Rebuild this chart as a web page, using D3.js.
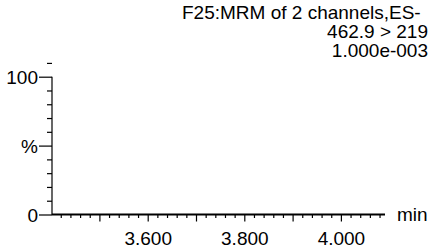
<!DOCTYPE html>
<html><head><meta charset="utf-8">
<script src="https://cdn.jsdelivr.net/npm/d3@7/dist/d3.min.js"></script>
<style>body{margin:0;background:#fff}svg{display:block}text{font-family:"Liberation Sans",Arial,sans-serif;fill:#000}</style>
</head><body><svg width="435" height="249"></svg>
<script>
const titleLines = ["F25:MRM of 2 channels,ES-", "462.9 > 219", "1.000e-003"];
const xMajorTicks = [3.5, 3.6, 3.7, 3.8, 3.9, 4.0];
const xLabelTicks = [3.6, 3.8, 4.0];
const xMinorTicks = [3.42,3.44,3.46,3.48,3.52,3.54,3.56,3.58,3.62,3.64,3.66,3.68,3.72,3.74,3.76,3.78,3.82,3.84,3.86,3.88,3.92,3.94,3.96,3.98,4.02,4.04,4.06,4.08];
const yMajorTicks = [0, 50, 100];
const yMinorTicks = [10, 20, 30, 40, 60, 70, 80, 90];
const yExtraTick = [110];
const yLabels = {0: "0", 50: "%", 100: "100"};
const xUnit = "min";
const seriesValues = []; // empty chromatogram trace

const svg = d3.select("svg");
const fs = 19;
const x0 = d3.scaleLinear().domain([3.6, 4.0]).range([147.7, 340.9]);
const x = d3.scaleLinear().domain([x0.invert(52), x0.invert(385)]).range([52, 385]);
const y = d3.scaleLinear().domain([0, 100]).range([214.5, 76.7]);

// x axis
const gx = svg.append("g").attr("transform", "translate(0,214.5)");
gx.append("line").attr("x1", 52).attr("x2", 385).attr("stroke", "#000").attr("stroke-width", 2);
gx.call(g => g.append("g").call(d3.axisBottom(x).tickValues(xMinorTicks).tickSize(3.5).tickFormat("")).call(a => a.select(".domain").remove()));
gx.call(g => g.append("g").call(d3.axisBottom(x).tickValues(xMajorTicks).tickSize(7).tickFormat(d => xLabelTicks.some(v => Math.abs(v - d) < 1e-9) ? d3.format(".3f")(d) : "")).call(a => a.select(".domain").remove()));
gx.selectAll(".tick line").attr("stroke", "#000").attr("stroke-width", 1.2);
gx.selectAll(".tick text").attr("font-size", fs).attr("dy", 0).attr("y", 30.5).attr("font-family", "Liberation Sans, Arial, sans-serif");
svg.append("text").attr("x", 397).attr("y", 221).attr("font-size", fs).text(xUnit);

// y axis
const gy = svg.append("g").attr("transform", "translate(52,0)");
gy.append("line").attr("y1", y(100)).attr("y2", 215).attr("stroke", "#000").attr("stroke-width", 1.2);
gy.append("g").call(d3.axisLeft(y).tickValues(yMinorTicks.concat(yExtraTick)).tickSize(5).tickFormat("")).call(a => a.select(".domain").remove());
gy.append("g").call(d3.axisLeft(y).tickValues(yMajorTicks).tickSize(13).tickPadding(1).tickFormat(d => yLabels[d])).call(a => a.select(".domain").remove());
gy.selectAll(".tick line").attr("stroke", "#000").attr("stroke-width", 1.2);
gy.selectAll(".tick text").attr("font-size", fs).attr("dy", "0.35em").attr("font-family", "Liberation Sans, Arial, sans-serif");

// title
svg.append("text").attr("x", 182).attr("y", 19).attr("font-size", fs).text(titleLines[0]);
svg.selectAll("text.tl").data(titleLines.slice(1)).join("text").attr("class", "tl")
  .attr("x", 428).attr("y", (d, i) => 38 + i * 19).attr("text-anchor", "end").attr("font-size", fs).text(d => d);
</script></body></html>
